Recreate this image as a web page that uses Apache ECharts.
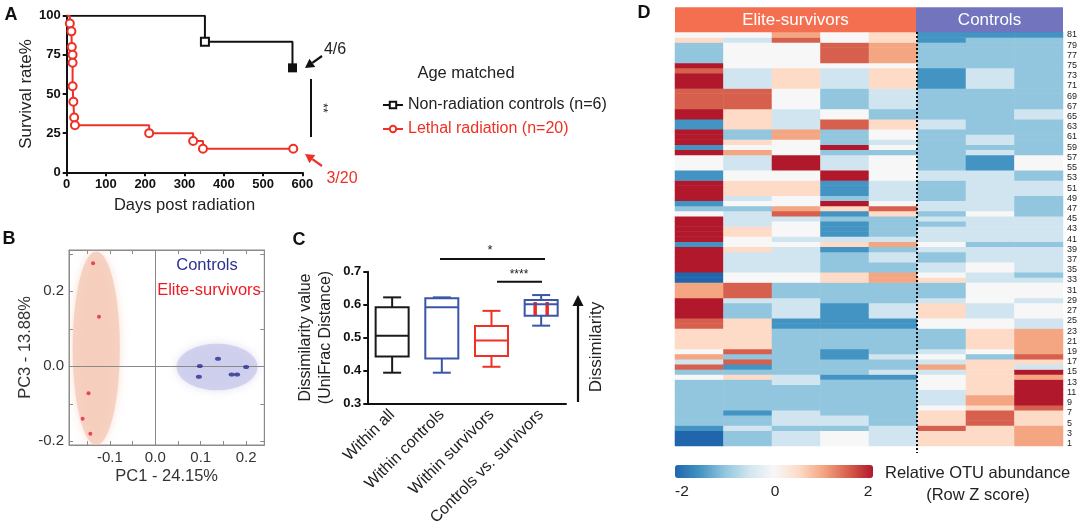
<!DOCTYPE html>
<html><head><meta charset="utf-8">
<script src="https://cdn.jsdelivr.net/npm/echarts@6.0.0/dist/echarts.min.js"></script>
<style>html,body{margin:0;padding:0;background:#fff}#main{width:1080px;height:530px}</style>
</head><body><div id="main"></div>
<script>
// ===== Panel A: Kaplan-Meier survival =====
const controlSurvival = [[0,100],[352,83.3],[575,66.7]];
const lethalSurvival = [[0,100],[8,95],[12,90],[13,80],[15,75],[15,70],[15,55],[17,45],[19,35],[21,30],[210,25],[322,20],[347,15],[577,15]];

// ===== Panel B: PCoA =====
const survivorPoints = [[-0.137,0.275],[-0.124,0.132],[-0.147,-0.072],[-0.160,-0.140],[-0.143,-0.180]];
const controlPoints = [[0.098,0.001],[0.096,-0.028],[0.138,0.020],[0.168,-0.022],[0.180,-0.022],[0.200,-0.002]];
const survivorEllipse = [-0.130,0.048,0.052,0.258];   // cx, cy, rx, ry
const controlEllipse = [0.136,-0.002,0.089,0.062];
const pcXLabels = [-0.1,0,0.1,0.2];
const pcYLabels = [-0.2,0,0.2];
const pcXTicks = [-0.15,-0.1,-0.05,0,0.05,0.1,0.15,0.2];
const pcYTicks = [-0.2,-0.1,0,0.1,0.2,0.3];

// ===== Panel C: box plots =====
const boxLabels = ['Within all','Within controls','Within survivors','Controls vs. survivors'];
const boxMin    = [0.393,0.393,0.411,0.536];
const boxQ1     = [0.442,0.436,0.444,0.566];
const boxMedian = [0.505,0.592,0.491,0.601];
const boxQ3     = [0.592,0.619,0.535,0.614];
const boxMax    = [0.622,0.622,0.581,0.629];
const boxColors = ['#1a1a1a','#3b55a8','#ee3124','#3b55a8'];
const innerBox  = [0.568,0.608]; // red inner box in last category

// ===== Panel D: heatmap (rows 1..81, bottom to top) =====
const heatColumnNames = ['E1','E2','E3','E4','E5','C1','C2','C3'];
const E1 = [-2,-2,-2,-1.5,-1,-1,-1,-1,-1,-1,
 -1,-1,-1,0,-1,1.5,-0.5,1,0,0.5,
 0.5,0.5,0.5,1.5,1.5,2,2,2,2,1,
 1,1,-2,-2,2,2,2,2,2,-1.5,
 2,2,2,2,2,0,-1,-1.5,2,2,
 2,2,-1.5,-1.5,0,0,0,2,-1.5,2,
 2,2,-1.5,-1.5,2,2,1.5,1.5,1.5,1.5,
 2,2,2,1.5,2,-1,-1,-1,-1,0.5,
 0];
const E2 = [-1,-1,-1,-0.5,-1,-1,-1.5,-1,-1,-1,
 -1,-1,-1,0.5,-1,-1.5,1.5,-1,1.5,0.5,
 0.5,0.5,0.5,0.5,0.5,-1,-1,-1,-0.5,1.5,
 1.5,1.5,0,0,-0.5,-0.5,-0.5,-0.5,0.5,0,
 0,0.5,0.5,-0.5,-0.5,-0.5,-1,0,-0.5,0.5,
 0.5,0.5,0,0,-0.5,-0.5,-0.5,1,0,0.5,
 -1,-1,0.5,0.5,0.5,0.5,1.5,1.5,1.5,1.5,
 -0.5,-0.5,-0.5,-0.5,0,0,0,0,0,-0.5,
 0];
const E3 = [-0.5,-0.5,-0.5,-1,-0.5,-0.5,-0.5,-1,-1,-1,
 -1,-1,-0.5,-0.5,-1,-1,-1,-1,-1,-1,
 -1,-1,-1,-1.5,-1.5,-0.5,-0.5,-0.5,-0.5,-1,
 -1,-1,0,0,-0.5,-0.5,-0.5,-0.5,-0.5,0,
 -0.5,0,0,0,-0.5,1.5,1,0,0,0.5,
 0.5,0.5,0,0,2,2,2,0,0,0,
 1,1,-0.5,-0.5,-0.5,-0.5,0,0,0,0,
 0.5,0.5,0.5,0.5,0,0,0,0,0,1.5,
 1];
const E4 = [0,0,0,-1,-0.5,-0.5,-1,-1,-1,-1,
 -1,-1,-1,-1.5,-1,-1,-1,-1.5,-1.5,-1,
 -1,-1,-1,-1.5,-1.5,-1.5,-1.5,-1.5,-1,-1,
 -1,-1,0.5,0.5,-1,-1,-1,-1,-1.5,0.5,
 -0.5,-1.5,-1.5,-1.5,-1,-1.5,0.5,2,-1,-1.5,
 -1.5,-1.5,2,2,-0.5,-0.5,-0.5,-1,2,-1,
 -1,-1,1.5,1.5,0,0,-1,-1,-1,-1,
 -0.5,-0.5,-0.5,-0.5,0,1.5,1.5,1.5,1.5,0,
 0];
const E5 = [-0.5,-0.5,-0.5,-0.5,-1,-1,-1,-1,-1,-1,
 -1,-1,-1,-1.5,-0.5,-1,-1,-0.5,-1,-1,
 -1,-1,-1,-1.5,-1.5,-0.5,-0.5,-0.5,-1,-1,
 -1,-1,1,1,-1,-1,-0.5,-0.5,-1,1,
 -0.5,-1,-1,-1,-1,0.5,1.5,0,-0.5,-0.5,
 -0.5,-0.5,0,0,0,0,0,-1,0,-0.5,
 0,0,0.5,0.5,-1,-1,-0.5,-0.5,-0.5,-0.5,
 0.5,0.5,0.5,0.5,0,1,1,1,1,0.5,
 0.5];
const C1 = [0.5,0.5,0.5,1.5,0.5,0.5,0.5,0,-0.5,-0.5,
 -0.5,0,0,0,-0.5,1,-0.5,0,-0.5,-1,
 -1,-1,-1,0,0,0.5,0.5,0.5,-0.5,-1,
 -1,-1,0.5,0,-0.5,-0.5,-1,-1,-0.5,0,
 -0.5,-0.5,-0.5,-1,-0.5,-1,-0.5,-0.5,-1,-1,
 -1,-1,-0.5,-0.5,-1,-1,-1,-1,-1,-1,
 -1,-1,-0.5,-0.5,-1,-1,-1,-1,-1,-1,
 -1.5,-1.5,-1.5,-1.5,-1,-1,-1,-1,-1,-1.5,
 -1.5];
const C2 = [0.5,0.5,0.5,0.5,1.5,1.5,1.5,0.5,1,1,
 0.5,0.5,0.5,0.5,0.5,0.5,0.5,-1,0,0.5,
 0.5,0.5,0.5,0,0,-0.5,-0.5,-0.5,0,0,
 0,0,-0.5,-0.5,0,0,-0.5,-0.5,-0.5,-1,
 -0.5,-0.5,-0.5,-0.5,-0.5,0,-0.5,-0.5,-0.5,-0.5,
 -0.5,-0.5,-0.5,-0.5,-1.5,-1.5,-1.5,-0.5,-1,-0.5,
 -0.5,-1,-1,-1,-1,-1,-1,-1,-1,-1,
 -0.5,-0.5,-0.5,-0.5,-1,-1,-1,-1,-1,-1,
 -1.5];
const C3 = [1,1,1,1,0.5,0.5,0.5,1.5,2,2,
 2,2,2,1,2,-0.5,0.5,1.5,1,1,
 1,1,1,-0.5,-0.5,0,0,0,-0.5,0,
 0,0,-0.5,-1,-0.5,-0.5,-0.5,-0.5,-0.5,-1,
 -0.5,-0.5,-0.5,-0.5,-0.5,-1,-1,-1,-1,-0.5,
 -0.5,-0.5,-1,-1,0,0,0,-1,-1,-1,
 -1,-1,-1,-1,-0.5,-0.5,-1,-1,-1,-1,
 -1,-1,-1,-1,-1,-1,-1,-1,-1,-1,
 -1.5];
const rowLabels = E1.map((_, i) => String(i + 1));
const colorbarLabels = ['-2','0','2'];

const FONT = '"Liberation Sans", Arial, Helvetica, sans-serif';
const RDBU = ['#2166ac','#4393c3','#92c5de','#d1e5f0','#f7f7f7','#fddbc7','#f4a582','#d6604d','#b2182b'];

const heatColumns = [E1,E2,E3,E4,E5,C1,C2,C3];
const heatData = [];
heatColumns.forEach((col, c) => col.forEach((v, r) => heatData.push([c, r, v])));

const boxData = boxLabels.map((_, i) => [i, boxMin[i], boxQ1[i], boxMedian[i], boxQ3[i], boxMax[i]]);

function kmData(arr, lastSolid) {
  return arr.map((p, i) => {
    if (i === 0) return {value: p, symbol: 'none'};
    if (lastSolid && i === arr.length - 1) return {value: p, symbol: 'rect', symbolSize: 9};
    return {value: p};
  });
}

function arrow(x1, y1, x2, y2, color, head, half) {
  const dx = x2 - x1, dy = y2 - y1, L = Math.hypot(dx, dy);
  const ux = dx / L, uy = dy / L;
  const bx = x2 - ux * head, by = y2 - uy * head;
  const px = -uy * half, py = ux * half;
  return [
    {type: 'line', z: 100, shape: {x1, y1, x2: bx, y2: by}, style: {stroke: color, lineWidth: 2.2}},
    {type: 'polygon', z: 100, shape: {points: [[x2, y2], [bx + px, by + py], [bx - px, by - py]]}, style: {fill: color}}
  ];
}
function txt(text, x, y, size, color, opts) {
  opts = opts || {};
  return {type: 'text', z: 100, x, y, rotation: opts.rotation || 0,
    style: {text, fill: color, font: (opts.weight || 'normal') + ' ' + size + 'px ' + FONT,
      align: opts.align || 'center', verticalAlign: 'middle'}};
}

const ellipseRender = (params, api) => {
  const c = api.coord([api.value(0), api.value(1)]);
  const s = api.size([api.value(2), api.value(3)]);
  const pts = [];
  for (let k = 0; k < 72; k++) {
    const t = k / 72 * Math.PI * 2;
    pts.push([c[0] + s[0] * Math.cos(t), c[1] + s[1] * Math.sin(t)]);
  }
  const fill = params.dataIndex === 0 ? 'rgba(244,200,182,0.75)' : 'rgba(200,200,235,0.75)';
  return {type: 'polygon', shape: {points: pts}, style: {fill, shadowBlur: 8, shadowColor: fill}};
};

const boxRender = (params, api) => {
  const i = api.value(0);
  const col = boxColors[i];
  const xMin = api.coord([i, api.value(1)]);
  const xQ1 = api.coord([i, api.value(2)]);
  const xMed = api.coord([i, api.value(3)]);
  const xQ3 = api.coord([i, api.value(4)]);
  const xMax = api.coord([i, api.value(5)]);
  const cx = xMin[0], hw = 16.5, cw = 9;
  const st = {stroke: col, lineWidth: 2, fill: null};
  const children = [];
  if (i === 3) {
    const a = api.coord([i, innerBox[0]]), b = api.coord([i, innerBox[1]]);
    children.push({type: 'line', shape: {x1: cx - 6, y1: a[1], x2: cx - 6, y2: b[1]}, style: {stroke: '#ee2a24', lineWidth: 3.5}});
    children.push({type: 'line', shape: {x1: cx + 6, y1: a[1], x2: cx + 6, y2: b[1]}, style: {stroke: '#ee2a24', lineWidth: 3.5}});
  }
  children.push(
    {type: 'rect', shape: {x: cx - hw, y: xQ3[1], width: hw * 2, height: xQ1[1] - xQ3[1]}, style: st},
    {type: 'line', shape: {x1: cx - hw, y1: xMed[1], x2: cx + hw, y2: xMed[1]}, style: st},
    {type: 'line', shape: {x1: cx, y1: xQ3[1], x2: cx, y2: xMax[1]}, style: st},
    {type: 'line', shape: {x1: cx, y1: xQ1[1], x2: cx, y2: xMin[1]}, style: st},
    {type: 'line', shape: {x1: cx - cw, y1: xMax[1], x2: cx + cw, y2: xMax[1]}, style: st},
    {type: 'line', shape: {x1: cx - cw, y1: xMin[1], x2: cx + cw, y2: xMin[1]}, style: st}
  );
  return {type: 'group', children};
};

const fmt1 = v => (Math.abs(v) < 1e-9 ? '0.0' : v.toFixed(1));
const black = '#111';
const gray = '#8a8a8a';

const option = {
  animation: false,
  backgroundColor: '#fff',
  textStyle: {fontFamily: FONT},
  grid: [
    {left: 66.7, top: 15.7, width: 235.6, height: 156.6},
    {left: 69, top: 250, width: 195.3, height: 195, show: true, borderColor: gray, borderWidth: 1, backgroundColor: 'transparent'},
    {left: 367.3, top: 271.7, width: 198.7, height: 131.6},
    {left: 675, top: 32.3, width: 388, height: 413.7}
  ],
  xAxis: [
    {gridIndex: 0, type: 'value', min: 0, max: 600, interval: 100,
      name: 'Days post radiation', nameLocation: 'middle', nameGap: 25,
      nameTextStyle: {fontSize: 16.5, color: '#222', fontFamily: FONT},
      axisLine: {lineStyle: {color: black, width: 2}}, axisTick: {length: 4, lineStyle: {color: black, width: 2}},
      axisLabel: {fontWeight: 'bold', fontSize: 13, color: black, margin: 6, fontFamily: FONT}, splitLine: {show: false}},
    {gridIndex: 1, type: 'value', min: -0.19, max: 0.24,
      name: 'PC1 - 24.15%', nameLocation: 'middle', nameGap: 23,
      nameTextStyle: {fontSize: 16.5, color: '#333', fontFamily: FONT},
      axisLine: {onZero: false, lineStyle: {color: gray, width: 1}},
      axisTick: {inside: true, length: 4, customValues: pcXTicks, lineStyle: {color: gray}},
      axisLabel: {customValues: pcXLabels, formatter: fmt1, fontSize: 15, color: '#333', margin: 5, fontFamily: FONT},
      splitLine: {show: false}},
    {gridIndex: 1, type: 'value', min: -0.19, max: 0.24, position: 'top',
      axisLine: {onZero: false, lineStyle: {color: gray}},
      axisTick: {inside: true, length: 4, customValues: pcXTicks, lineStyle: {color: gray}},
      axisLabel: {show: false}, splitLine: {show: false}},
    {gridIndex: 2, type: 'category', data: boxLabels, boundaryGap: true,
      axisLine: {lineStyle: {color: black, width: 2}},
      axisTick: {alignWithLabel: true, length: 5, lineStyle: {color: black, width: 2}},
      axisLabel: {rotate: 45, fontSize: 16, color: '#222', margin: 9, interval: 0, fontFamily: FONT}},
    {gridIndex: 3, type: 'category', data: heatColumnNames, show: false}
  ],
  yAxis: [
    {gridIndex: 0, type: 'value', min: 0, max: 100, interval: 25,
      name: 'Survival rate%', nameLocation: 'middle', nameGap: 31,
      nameTextStyle: {fontSize: 17, color: '#222', fontFamily: FONT},
      axisLine: {show: true, lineStyle: {color: black, width: 2}}, axisTick: {show: true, length: 4, lineStyle: {color: black, width: 2}},
      axisLabel: {fontWeight: 'bold', fontSize: 13, color: black, margin: 6, fontFamily: FONT}, splitLine: {show: false}},
    {gridIndex: 1, type: 'value', min: -0.21, max: 0.31,
      name: 'PC3 - 13.88%', nameLocation: 'middle', nameGap: 35,
      nameTextStyle: {fontSize: 16.5, color: '#333', fontFamily: FONT},
      axisLine: {show: true, onZero: false, lineStyle: {color: gray}},
      axisTick: {show: true, inside: true, length: 4, customValues: pcYTicks, lineStyle: {color: gray}},
      axisLabel: {customValues: pcYLabels, formatter: fmt1, fontSize: 15, color: '#333', margin: 5, fontFamily: FONT},
      splitLine: {show: false}},
    {gridIndex: 1, type: 'value', min: -0.21, max: 0.31, position: 'right',
      axisLine: {show: true, onZero: false, lineStyle: {color: gray}},
      axisTick: {show: true, inside: true, length: 4, customValues: pcYTicks, lineStyle: {color: gray}},
      axisLabel: {show: false}, splitLine: {show: false}},
    {gridIndex: 2, type: 'value', min: 0.3, max: 0.7, interval: 0.1,
      name: 'Dissimilarity value\n(UniFrac Distance)', nameLocation: 'middle', nameGap: 32,
      nameTextStyle: {fontSize: 16, color: '#222', lineHeight: 20, fontFamily: FONT},
      axisLine: {show: true, lineStyle: {color: black, width: 2}}, axisTick: {show: true, length: 4, lineStyle: {color: black, width: 2}},
      axisLabel: {formatter: fmt1, fontWeight: 'bold', fontSize: 13, color: black, margin: 6, fontFamily: FONT}, splitLine: {show: false}},
    {gridIndex: 3, type: 'category', data: rowLabels, position: 'right',
      axisLine: {show: false}, axisTick: {show: false},
      axisLabel: {interval: 1, fontSize: 9, color: '#222', margin: 4, fontFamily: FONT}}
  ],
  legend: {
    orient: 'vertical', left: 377, top: 92, itemGap: 8, itemWidth: 20, itemHeight: 8,
    textStyle: {fontSize: 16, color: '#222', fontFamily: FONT},
    data: [
      {name: 'Non-radiation controls (n=6)', textStyle: {color: '#222'}},
      {name: 'Lethal radiation (n=20)', textStyle: {color: '#ee3124'}}
    ]
  },
  visualMap: {
    type: 'continuous', min: -2, max: 2, seriesIndex: 6, orient: 'horizontal',
    left: 675, top: 465, itemWidth: 13, itemHeight: 198, padding: 0,
    calculable: false, showLabel: false, inRange: {color: RDBU}
  },
  series: [
    {type: 'line', name: 'Non-radiation controls (n=6)', xAxisIndex: 0, yAxisIndex: 0, step: 'end',
      data: kmData(controlSurvival, true), symbol: 'emptyRect', symbolSize: 8, color: black,
      lineStyle: {color: black, width: 2}, itemStyle: {color: black, borderWidth: 2}, z: 3},
    {type: 'line', name: 'Lethal radiation (n=20)', xAxisIndex: 0, yAxisIndex: 0, step: 'end',
      data: kmData(lethalSurvival, false), symbol: 'emptyCircle', symbolSize: 8, color: '#ee3124',
      lineStyle: {color: '#ee3124', width: 2}, itemStyle: {color: '#ee3124', borderWidth: 2}, z: 4},
    {type: 'custom', xAxisIndex: 1, yAxisIndex: 1, data: [survivorEllipse, controlEllipse],
      encode: {x: 0, y: 1}, renderItem: ellipseRender, clip: true, silent: true, z: 1},
    {type: 'scatter', name: 'Elite-survivors', xAxisIndex: 1, yAxisIndex: 1, data: survivorPoints,
      symbolSize: 4, itemStyle: {color: '#e8203a'}, z: 5,
      markLine: {silent: true, symbol: 'none', label: {show: false},
        lineStyle: {color: '#8a8a8a', width: 1, type: 'solid'},
        data: [{xAxis: 0}, {yAxis: 0}]}},
    {type: 'scatter', name: 'Controls', xAxisIndex: 1, yAxisIndex: 1, data: controlPoints,
      symbolSize: [6, 4], itemStyle: {color: '#2b2c8f'}, z: 5},
    {type: 'custom', xAxisIndex: 3, yAxisIndex: 3, data: boxData,
      encode: {x: 0, y: [1, 2, 3, 4, 5]}, renderItem: boxRender, silent: true},
    {type: 'heatmap', xAxisIndex: 4, yAxisIndex: 4, data: heatData, silent: true,
      itemStyle: {borderWidth: 0}, emphasis: {disabled: true}}
  ],
  graphic: {elements: [
    // panel letters
    txt('A', 11, 15, 18, '#111', {weight: 'bold'}),
    txt('B', 9, 239, 18, '#111', {weight: 'bold'}),
    txt('C', 299, 240, 18, '#111', {weight: 'bold'}),
    txt('D', 644, 13, 18, '#111', {weight: 'bold'}),
    // panel A annotations
    txt('4/6', 335, 50, 16, '#222'),
    txt('3/20', 342, 179, 16, '#ee3124'),
    ...arrow(322, 56, 305, 68, black, 9, 5),
    ...arrow(322, 166, 305, 154, '#ee3124', 9, 5),
    {type: 'line', z: 100, shape: {x1: 311, y1: 79, x2: 311, y2: 137}, style: {stroke: black, lineWidth: 2}},
    txt('**', 322, 108, 12, '#222', {rotation: -Math.PI / 2}),
    txt('Age matched', 466, 73, 16.5, '#222'),
    // panel B labels
    txt('Controls', 207, 265, 16.5, '#2e3192'),
    txt('Elite-survivors', 209, 290, 16.5, '#ed1c24'),
    // panel C annotations
    {type: 'line', z: 100, shape: {x1: 440, y1: 259, x2: 545, y2: 259}, style: {stroke: black, lineWidth: 2}},
    txt('*', 490, 250, 13, '#222'),
    {type: 'line', z: 100, shape: {x1: 497, y1: 281.7, x2: 542, y2: 281.7}, style: {stroke: black, lineWidth: 2}},
    txt('****', 519, 275, 12, '#222'),
    ...arrow(578, 402, 578, 295, black, 11, 5.5),
    txt('Dissimilarity', 596, 347, 17, '#222', {rotation: Math.PI / 2}),
    // panel D header
    {type: 'rect', z: 100, shape: {x: 675, y: 7.3, width: 241, height: 25}, style: {fill: '#f36f50'}},
    {type: 'rect', z: 100, shape: {x: 916, y: 7.3, width: 147, height: 25}, style: {fill: '#7274bd'}},
    txt('Elite-survivors', 795.5, 20, 17, '#fff'),
    txt('Controls', 989.5, 20, 17, '#fff'),
    {type: 'line', z: 100, shape: {x1: 917, y1: 32, x2: 917, y2: 453}, style: {stroke: '#111', lineWidth: 2, lineDash: [2, 2]}},
    // colorbar labels
    txt(colorbarLabels[0], 682, 492, 15.5, '#222'),
    txt(colorbarLabels[1], 775, 492, 15.5, '#222'),
    txt(colorbarLabels[2], 868, 492, 15.5, '#222'),
    txt('Relative OTU abundance', 885, 473, 16.5, '#222', {align: 'left'}),
    txt('(Row Z score)', 978, 495, 16.5, '#222')
  ]}
};

const chart = echarts.init(document.getElementById('main'), null, {renderer: 'canvas'});
chart.setOption(option);
</script>
</body></html>
